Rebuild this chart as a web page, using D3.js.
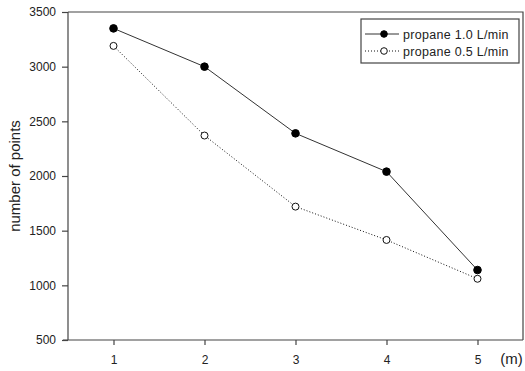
<!DOCTYPE html>
<html><head><meta charset="utf-8">
<script src="https://cdn.jsdelivr.net/npm/d3@7"></script>
<style>body{margin:0;background:#fff;} text{font-family:"Liberation Sans",Arial,sans-serif;}</style>
</head><body><svg id="c" width="525" height="371"></svg>
<script>
const distances = [1, 2, 3, 4, 5];
const propane10 = [3350, 3000, 2390, 2040, 1140];
const propane05 = [3190, 2370, 1720, 1415, 1060];
const yTicks = [500, 1000, 1500, 2000, 2500, 3000, 3500];
const seriesNames = ["propane 1.0 L/min", "propane 0.5 L/min"];

const svg = d3.select("#c");
const L = 68, R = 523, T = 12, B = 340;
const x = d3.scaleLinear().domain([0.5, 5.5]).range([L, R]);
const y = d3.scaleLinear().domain([500, 3500]).range([B, T]);

svg.append("path").attr("d", `M${L},${T}H${R}V${B}`).attr("fill","none").attr("stroke","#444").attr("stroke-width",1.2);

const yAxis = svg.append("g").attr("transform", `translate(${L},0)`)
  .call(d3.axisLeft(y).tickValues(yTicks).tickSize(6).tickPadding(6).tickFormat(d3.format("d")));
const xAxis = svg.append("g").attr("transform", `translate(0,${B})`)
  .call(d3.axisBottom(x).tickValues(distances).tickSize(5).tickPadding(10).tickFormat(d3.format("d")));
[yAxis, xAxis].forEach(g => {
  g.select(".domain").remove();
  g.selectAll("line").attr("stroke","#444").attr("stroke-width",1.2);
  g.selectAll("text").attr("font-size", 12).attr("fill","#222").attr("font-family","Liberation Sans, Arial, sans-serif");
});
svg.append("line").attr("x1", L).attr("x2", L).attr("y1", T).attr("y2", B).attr("stroke","#444").attr("stroke-width",1.2);
svg.append("line").attr("x1", L-5).attr("x2", R).attr("y1", B).attr("y2", B).attr("stroke","#444").attr("stroke-width",1.2);

svg.append("text").attr("x", x(5) + 34).attr("y", B + 24).attr("text-anchor","middle")
  .attr("font-size", 15).attr("fill","#222").text("(m)");
svg.append("text").attr("transform", `translate(20,${(T+B)/2}) rotate(-90)`).attr("text-anchor","middle")
  .attr("font-size", 15).attr("fill","#222").text("number of points");

const line = d3.line().x((d,i) => x(distances[i])).y(d => y(d));
svg.append("path").datum(propane05).attr("d", line).attr("fill","none").attr("stroke","#111").attr("stroke-width",1).attr("stroke-dasharray","1,2");
svg.append("path").datum(propane10).attr("d", line).attr("fill","none").attr("stroke","#333").attr("stroke-width",1);
svg.selectAll("circle.o").data(propane05).enter().append("circle")
  .attr("cx",(d,i)=>x(distances[i])).attr("cy",d=>y(d)).attr("r",3.5).attr("fill","#fff").attr("stroke","#111").attr("stroke-width",1);
svg.selectAll("circle.f").data(propane10).enter().append("circle")
  .attr("cx",(d,i)=>x(distances[i])).attr("cy",d=>y(d)).attr("r",3.8).attr("fill","#000").attr("stroke","#000");

const lg = svg.append("g");
lg.append("rect").attr("x",361).attr("y",19).attr("width",158).attr("height",44).attr("fill","#fff").attr("stroke","#444").attr("stroke-width",1.2);
seriesNames.forEach((n,i) => {
  const yy = 34 + i*17;
  lg.append("line").attr("x1",365).attr("x2",399).attr("y1",yy).attr("y2",yy).attr("stroke", i? "#111":"#333")
    .attr("stroke-width",1).attr("stroke-dasharray", i? "1,2":null);
  lg.append("circle").attr("cx",384).attr("cy",yy).attr("r",3.3).attr("fill", i? "#fff":"#000").attr("stroke", i?"#111":"#000");
  lg.append("text").attr("x",403).attr("y",yy+4.5).attr("font-size",12.5).attr("letter-spacing",0.3).attr("fill","#222").text(n);
});
</script></body></html>
